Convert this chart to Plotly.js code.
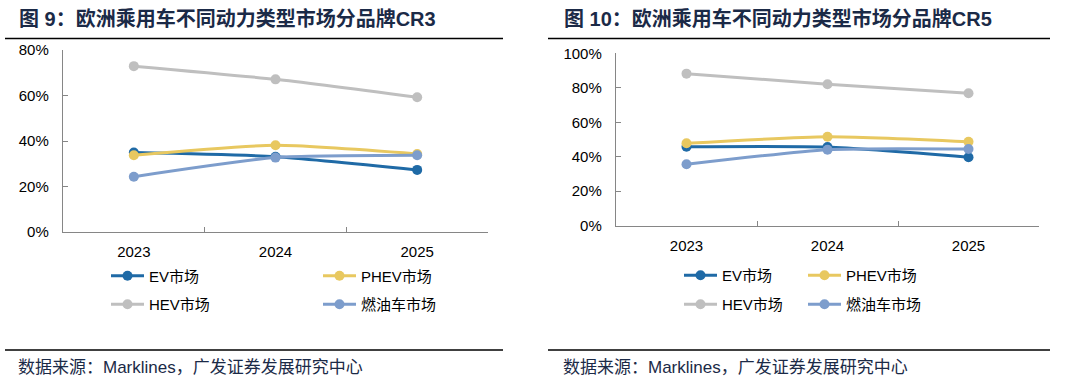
<!DOCTYPE html>
<html><head><meta charset="utf-8">
<script src="https://cdn.plot.ly/plotly-3.0.1.min.js"></script>
<style>html,body{margin:0;padding:0;background:#fff}</style>
</head><body><div id="chart" style="width:1078px;height:389px"></div>
<script>
// ---- data ----
const years = ['2023', '2024', '2025'];
const seriesNames = ['EV市场', 'PHEV市场', 'HEV市场', '燃油车市场'];
const cr3_ev   = [34.9, 33.1, 27.3];
const cr3_phev = [33.7, 38.1, 34.3];
const cr3_hev  = [72.9, 67.1, 59.2];
const cr3_ice  = [24.3, 32.7, 33.7];
const cr5_ev   = [45.8, 45.6, 39.7];
const cr5_phev = [47.8, 51.6, 48.7];
const cr5_hev  = [88.2, 82.0, 76.8];
const cr5_ice  = [35.6, 44.1, 44.5];
const title1 = '图 9：欧洲乘用车不同动力类型市场分品牌CR3';
const title2 = '图 10：欧洲乘用车不同动力类型市场分品牌CR5';
const sourceText = '数据来源：Marklines，广发证券发展研究中心';

// ---- style ----
const W = 1078, H = 389;
const colors = ['#1f6aa6', '#e8c860', '#bfbfbf', '#7d9dcc'];
const FONT = '"Liberation Sans", Arial, "Noto Sans CJK SC", sans-serif';
const px = v => v / W, py = v => 1 - v / H;

const charts = [
  {vals: [cr3_ev, cr3_phev, cr3_hev, cr3_ice], xa: 'x', ya: 'y', max: 80,
   legX: [107, 319], legY: [276, 304.5]},
  {vals: [cr5_ev, cr5_phev, cr5_hev, cr5_ice], xa: 'x2', ya: 'y2', max: 100,
   legX: [680, 804], legY: [275.5, 304.5]}
];

const traces = [];
const layout = {
  width: W, height: H,
  margin: {l: 0, r: 0, t: 0, b: 0},
  paper_bgcolor: '#fff', plot_bgcolor: '#fff',
  font: {family: FONT, size: 15, color: '#000'},
  showlegend: true,
  shapes: [], annotations: []
};

let li = 0;
charts.forEach((c, ci) => {
  c.vals.forEach((v, si) => {
    li++;
    const lname = li === 1 ? 'legend' : 'legend' + li;
    traces.push({
      type: 'scatter', mode: 'lines+markers',
      x: years, y: v, name: seriesNames[si],
      xaxis: c.xa, yaxis: c.ya, legend: lname,
      line: {color: colors[si], width: 3, shape: 'spline', smoothing: 0.6},
      marker: {color: colors[si], size: 10},
      hoverinfo: 'skip'
    });
    const col = si % 2, row = Math.floor(si / 2);
    layout[lname] = {
      x: px(c.legX[col] - 1), y: py(c.legY[row]),
      xanchor: 'left', yanchor: 'middle',
      bgcolor: 'rgba(0,0,0,0)', borderwidth: 0,
      font: {family: FONT, size: 15, color: '#000'},
      tracegroupgap: 0, itemwidth: 33
    };
  });
});

const axCommon = {
  showline: true, linecolor: '#868686', linewidth: 1.2,
  showgrid: false, zeroline: false, fixedrange: true,
  ticks: 'inside', tickcolor: '#868686', ticklen: 5,
  tickfont: {family: FONT, size: 15, color: '#000'}
};
layout.xaxis = Object.assign({}, axCommon, {
  domain: [px(63), px(488)], anchor: 'y', type: 'category',
  tickson: 'boundaries', range: [-0.5, 2.5], ticklabelstandoff: 6
});
layout.yaxis = Object.assign({}, axCommon, {
  domain: [1 - 232 / H, 1 - 50 / H], anchor: 'x',
  range: [0, 80], dtick: 20, ticksuffix: '%', ticklabelstandoff: 10
});
layout.xaxis2 = Object.assign({}, axCommon, {
  domain: [px(616), px(1039)], anchor: 'y2', type: 'category',
  tickson: 'boundaries', range: [-0.5, 2.5], ticklabelstandoff: 6
});
layout.yaxis2 = Object.assign({}, axCommon, {
  domain: [1 - 225.7 / H, 1 - 53.3 / H], anchor: 'x2',
  range: [0, 100], dtick: 20, ticksuffix: '%', ticklabelstandoff: 10
});

// titles, rules, sources
[[17, title1, 5, 503], [562, title2, 548, 1050]].forEach(([tx, t, l0, l1]) => {
  layout.annotations.push({
    xref: 'paper', yref: 'paper', x: px(tx), y: py(18),
    xanchor: 'left', yanchor: 'middle', showarrow: false,
    text: '<b>' + t + '</b>',
    font: {family: FONT, size: 20, color: '#1b2a47'}
  });
  layout.annotations.push({
    xref: 'paper', yref: 'paper', x: px(tx - 1), y: py(367),
    xanchor: 'left', yanchor: 'middle', showarrow: false,
    text: sourceText,
    font: {family: FONT, size: 17, color: '#1b2a47'}
  });
  layout.shapes.push({type: 'line', xref: 'paper', yref: 'paper',
    x0: px(l0), x1: px(l1), y0: py(38.5), y1: py(38.5),
    line: {color: '#000', width: 1.3}});
  layout.shapes.push({type: 'line', xref: 'paper', yref: 'paper',
    x0: px(l0), x1: px(l1), y0: py(350), y1: py(350),
    line: {color: '#000', width: 1.3}});
});

Plotly.newPlot('chart', traces, layout, {displayModeBar: false, staticPlot: true});
</script>
</body></html>
